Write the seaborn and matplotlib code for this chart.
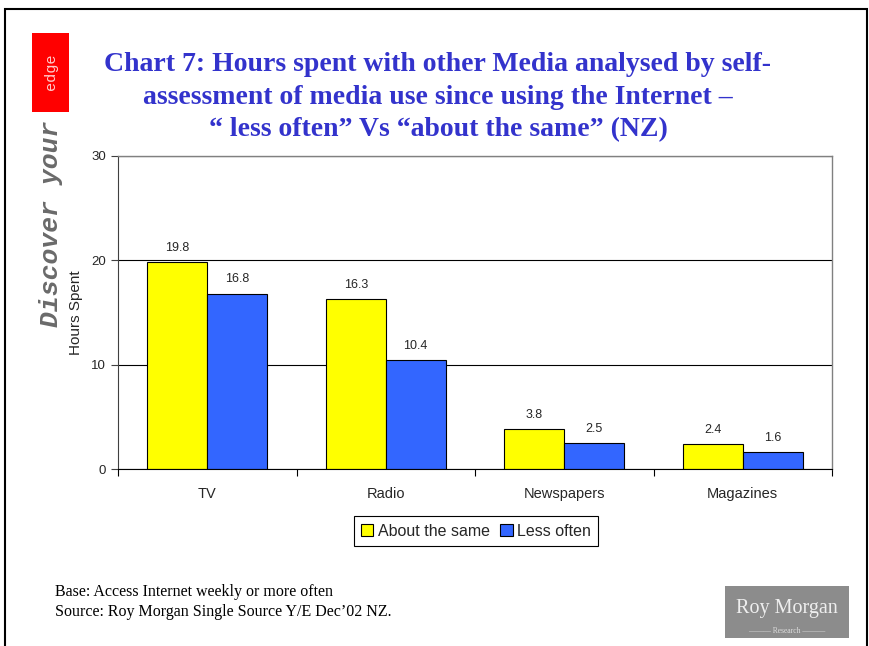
import pandas as pd
import matplotlib.pyplot as plt
import seaborn as sns
from matplotlib.patches import Rectangle


# -----------------------------
# Data
# -----------------------------
categories = ["TV", "Radio", "Newspapers", "Magazines"]
about_same = [19.8, 16.3, 3.8, 2.4]
less_often = [16.8, 10.4, 2.5, 1.6]
series_names = ["About the same", "Less often"]
y_ticks = [0, 10, 20, 30]
title_lines = [
    "Chart 7: Hours spent with other Media analysed by self-",
    "assessment of media use since using the Internet \u2013",
    "\u201c less often\u201d Vs \u201cabout the same\u201d (NZ)",
]

df = pd.DataFrame({
    "Media": categories * 2,
    "Hours": about_same + less_often,
    "Group": [series_names[0]] * 4 + [series_names[1]] * 4,
})


# -----------------------------
# Figure
# -----------------------------
sns.set_style("white")
plt.rcParams["font.family"] = ["Liberation Sans", "DejaVu Sans"]

fig = plt.figure(figsize=(8.69, 6.46), dpi=100)
ax = fig.add_axes([118 / 869, 1 - 469 / 646, (832 - 118) / 869, (469 - 156) / 646])

sns.barplot(
    data=df, x="Media", y="Hours", hue="Group",
    palette=["#FFFF00", "#3366FF"], saturation=1,
    edgecolor="black", linewidth=0.8,
    width=0.67, gap=0, ax=ax, legend=True,
)

for cont in ax.containers:
    ax.bar_label(cont, fmt="%.1f", padding=6, fontsize=9)

ax.set_ylim(0, 30)
ax.set_yticks(y_ticks)
ax.set_xlim(-0.5, len(categories) - 0.5)
ax.tick_params(axis="y", labelsize=9.5, length=5, width=0.8, color="#404040", direction="out", left=True)
ax.tick_params(axis="x", which="major", length=0, labelsize=10.5, pad=13)
ax.set_xticks([i - 0.5 for i in range(len(categories) + 1)], minor=True)
ax.tick_params(axis="x", which="minor", length=5, width=0.8, color="black", bottom=True)

ax.set_xlabel("")
ax.set_ylabel("Hours Spent", fontsize=11, labelpad=6)

ax.grid(axis="y", color="black", linewidth=0.8)
ax.set_axisbelow(True)
for side in ["top", "right"]:
    ax.spines[side].set_color("#808080")
    ax.spines[side].set_linewidth(1.0)
ax.spines["left"].set_color("#404040")
ax.spines["bottom"].set_color("black")
for s in ax.spines.values():
    s.set_zorder(5)

handles, labels = ax.get_legend_handles_labels()
ax.get_legend().remove()
fig.legend(
    handles, labels, loc="center", bbox_to_anchor=(476 / 869, 1 - 531 / 646),
    ncol=2, frameon=True, fancybox=False, edgecolor="black", framealpha=1,
    fontsize=11.5, handlelength=0.8, handleheight=0.8, handletextpad=0.3,
    columnspacing=0.6, borderpad=0.45,
)
fig.legends[0].get_frame().set_linewidth(0.8)


# -----------------------------
# Title, notes, decorations
# -----------------------------
for i, line in enumerate(title_lines):
    fig.text(
        0.504, 1 - (71 + 32.5 * i) / 646, line,
        ha="center", va="baseline", fontsize=20, fontweight="bold",
        color="#3333CC", family=["Liberation Serif", "DejaVu Serif"],
    )

fig.text(
    55 / 869, 1 - 584 / 646,
    "Base: Access Internet weekly or more often\n"
    "Source: Roy Morgan Single Source Y/E Dec\u201902 NZ.",
    ha="left", va="top", fontsize=11.5, color="black",
    family=["Liberation Serif", "DejaVu Serif"], linespacing=1.3,
)

# page border
fig.add_artist(Rectangle((5 / 869, -0.02), (867 - 5) / 869, (646 - 9) / 646 + 0.02,
                         transform=fig.transFigure, fill=False, edgecolor="black",
                         linewidth=1.5, clip_on=False))

# side tag
fig.add_artist(Rectangle((32 / 869, 1 - 112 / 646), 37 / 869, 79 / 646,
                         transform=fig.transFigure, facecolor="#FF0000",
                         edgecolor="none"))
fig.text(51 / 869, 1 - 72 / 646, "edge", rotation=90, ha="center", va="center",
         fontsize=11, color="#FFCCCC", family=["Liberation Mono", "DejaVu Sans Mono"])
fig.text(51 / 869, 1 - 224 / 646, "Discover your", rotation=90, ha="center", va="center",
         fontsize=19, color="#6A6A6A", style="italic", fontweight="bold",
         family=["Liberation Mono", "DejaVu Sans Mono"])

# logo
fig.add_artist(Rectangle((725 / 869, 1 - 638 / 646), 124 / 869, 52 / 646,
                         transform=fig.transFigure, facecolor="#8C8C8C",
                         edgecolor="none"))
fig.text(787 / 869, 1 - 609 / 646, "Roy Morgan", ha="center", va="center",
         fontsize=14.5, color="#EEEEEE", family=["Liberation Serif", "DejaVu Serif"])
fig.text(787 / 869, 1 - 631 / 646, "\u2014\u2014\u2014 Research \u2014\u2014\u2014", ha="center", va="center",
         fontsize=5.5, color="#DDDDDD", family=["Liberation Serif", "DejaVu Serif"])

fig.savefig("out.png", dpi=100)
